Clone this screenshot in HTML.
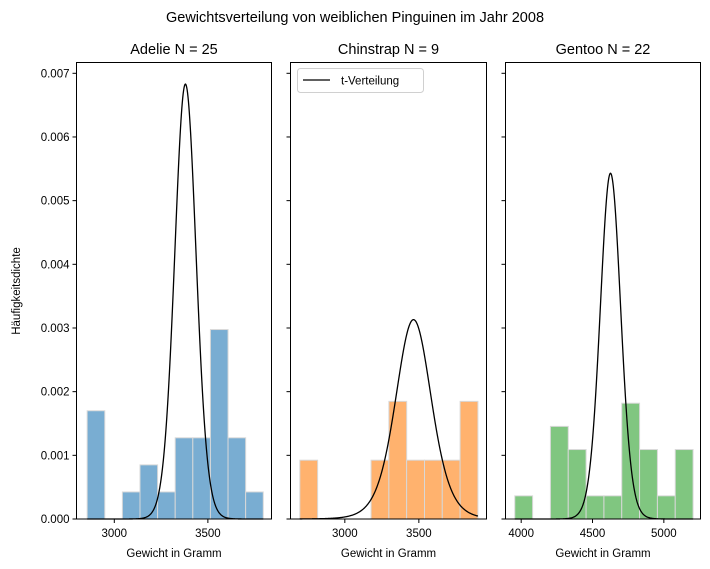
<!DOCTYPE html>
<html><head><meta charset="utf-8"><style>
body{margin:0;background:#fff;}
svg{display:block;font-family:"Liberation Sans","DejaVu Sans",sans-serif;}
</style></head><body>
<svg id="fig" width="710" height="569" viewBox="0 0 710 569">
<rect width="710" height="569" fill="#fff"/>
<text x="355" y="22" text-anchor="middle" font-size="14.5">Gewichtsverteilung von weiblichen Pinguinen im Jahr 2008</text>
<g id="plots"></g>
</svg>
<script>
const species = ["Adelie", "Chinstrap", "Gentoo"];
const sampleSizes = [25, 9, 22];
const binStarts = [2855, 2696, 3955];
const binWidths = [94.1, 120.3, 125];
const adelieCounts = [4, 0, 1, 2, 1, 3, 3, 7, 3, 1];
const chinstrapCounts = [1, 0, 0, 0, 1, 2, 1, 1, 1, 2];
const gentooCounts = [1, 0, 4, 3, 1, 1, 5, 3, 1, 3];
const tLoc = [3380, 3464, 4626];
const tScale = [57.8, 123.5, 72.6];
const xTickLabels = [[3000, 3500], [3000, 3500], [4000, 4500, 5000]];
const yTicks = [0, 0.001, 0.002, 0.003, 0.004, 0.005, 0.006, 0.007];
const colors = ["#1f77b4", "#ff7f0e", "#2ca02c"];
const countsAll = [adelieCounts, chinstrapCounts, gentooCounts];
const panels = [{l:76.5,r:271.5,x0:2798,x1:3840},{l:290.5,r:486.5,x0:2633,x1:3957},{l:505.5,r:700.5,x0:3890,x1:5257}];
const axTop = 62.5, axBot = 519;
const yScale = v => axBot - v / 0.007 * (axBot - 73.3);
const NS = "http://www.w3.org/2000/svg";
const root = document.getElementById("plots");
function mk(tag, attrs, parent){const e=document.createElementNS(NS,tag);for(const k in attrs)e.setAttribute(k,attrs[k]);(parent||root).appendChild(e);return e;}
function lgamma(z){const g=7,c=[0.99999999999980993,676.5203681218851,-1259.1392167224028,771.32342877765313,-176.61502916214059,12.507343278686905,-0.13857109526572012,9.9843695780195716e-6,1.5056327351493116e-7];
 if(z<0.5)return Math.log(Math.PI/Math.sin(Math.PI*z))-lgamma(1-z);z-=1;let a=c[0];const t=z+g+0.5;for(let i=1;i<9;i++)a+=c[i]/(z+i);return 0.5*Math.log(2*Math.PI)+(z+0.5)*Math.log(t)-t+Math.log(a);}
function tpdf(x,df,loc,s){const u=(x-loc)/s;return Math.exp(lgamma((df+1)/2)-lgamma(df/2))/Math.sqrt(df*Math.PI)*Math.pow(1+u*u/df,-(df+1)/2)/s;}
panels.forEach((p,i)=>{
 const xs = v => p.l + (v - p.x0)/(p.x1 - p.x0)*(p.r - p.l);
 const g = mk("g",{});
 
 
 const t = mk("text",{x:(p.l+p.r)/2,y:54,"text-anchor":"middle","font-size":"14.5"},g);
 t.textContent = species[i]+" N = "+sampleSizes[i];
 
 
 const counts = countsAll[i], n = sampleSizes[i], w = binWidths[i];
 counts.forEach((c,j)=>{
  if(c===0)return;
  const a = binStarts[i]+j*w, d = c/(n*w);
  const r = mk("rect",{x:xs(a),y:yScale(d),width:xs(a+w)-xs(a),height:axBot-yScale(d),fill:colors[i],"fill-opacity":"0.6",stroke:"#d9d9d9","stroke-width":"1"},g);
  
  
 });
 let d="";const a0=binStarts[i],a1=binStarts[i]+10*w;
 for(let k=0;k<=400;k++){const x=a0+(a1-a0)*k/400;const y=tpdf(x,n-1,tLoc[i],tScale[i]);d+=(k?"L":"M")+xs(x).toFixed(2)+","+yScale(y).toFixed(2);}
 const pth = mk("path",{d:d,fill:"none",stroke:"#000","stroke-width":"1.3"},g);
 
 
 const fr = mk("rect",{x:p.l,y:axTop,width:p.r-p.l,height:axBot-axTop,fill:"none",stroke:"#000","stroke-width":"1"},g);
 
 
 xTickLabels[i].forEach(v=>{
  mk("line",{x1:xs(v),x2:xs(v),y1:axBot,y2:axBot+4,stroke:"#000"},g);
  const tl = mk("text",{x:xs(v),y:axBot+18,"text-anchor":"middle","font-size":"11.5"},g);
  tl.textContent = v;
  
  
 });
 yTicks.forEach(v=>{
  mk("line",{x1:p.l-4,x2:p.l,y1:yScale(v),y2:yScale(v),stroke:"#000"},g);
  if(i===0){const yl=mk("text",{x:p.l-7,y:yScale(v)+4,"text-anchor":"end","font-size":"11.5"},g);
   yl.textContent=v.toFixed(3);
   
   }
 });
 const xl = mk("text",{x:(p.l+p.r)/2,y:557,"text-anchor":"middle","font-size":"11.5"},g);
 xl.textContent = "Gewicht in Gramm";
 
 
});
const yt = mk("text",{x:0,y:0,"text-anchor":"middle","font-size":"11.5",transform:"translate(20,291) rotate(-90)"});
yt.textContent = "Häufigkeitsdichte";


const lg = mk("g",{});


mk("rect",{x:297.5,y:68.5,width:126,height:24,rx:3,fill:"#fff",stroke:"#d0d0d0"},lg);
mk("line",{x1:303,x2:330,y1:80,y2:80,stroke:"#000","stroke-width":"1.3"},lg);
const lt = mk("text",{x:341,y:84.5,"font-size":"11.5"},lg);
lt.textContent = "t-Verteilung";


</script>
</body></html>
